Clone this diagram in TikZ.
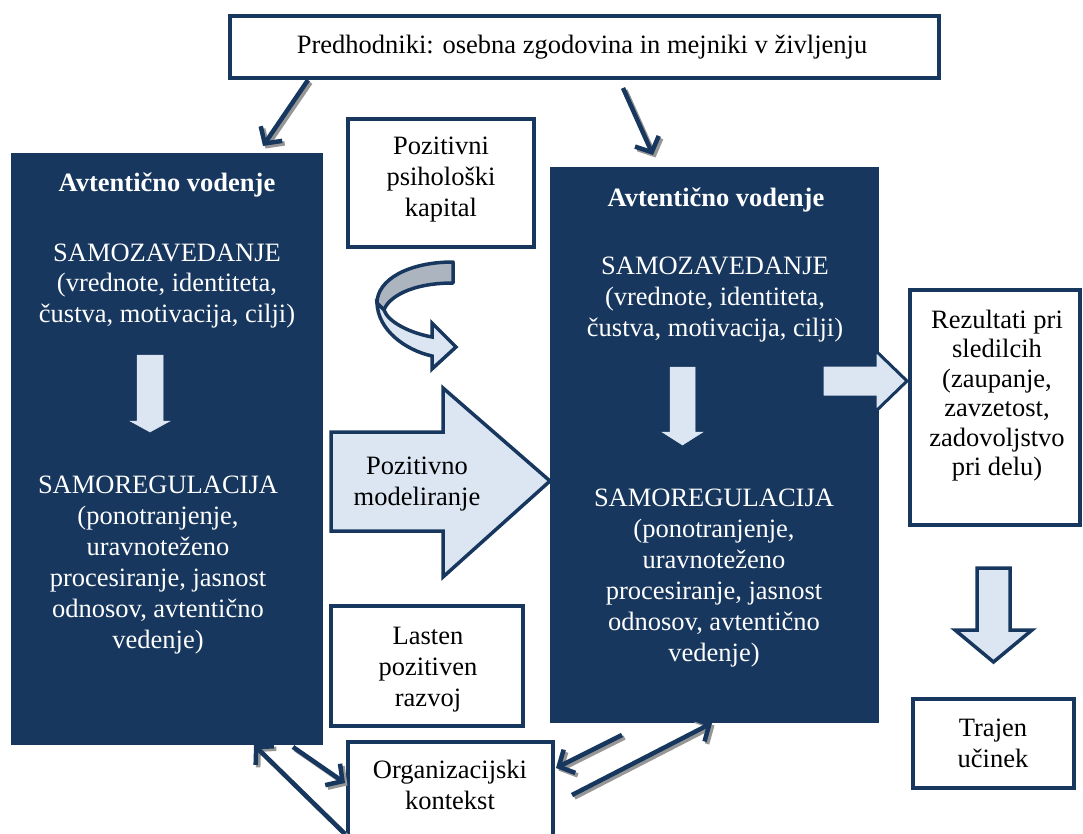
\documentclass[tikz,border=0pt]{standalone}
\usepackage{fontspec}
\setmainfont{Liberation Serif}
\usetikzlibrary{arrows.meta}
\definecolor{navy}{RGB}{23,55,94}
\definecolor{pale}{RGB}{220,230,242}
\definecolor{fold}{RGB}{172,180,192}
\definecolor{shade}{RGB}{150,150,150}
% centred lines whose base anchor is the baseline of the first line
\newcommand{\mlines}[1]{\begin{tabular}[t]{@{}c@{}}#1\end{tabular}}
\begin{document}
\begin{tikzpicture}[x=1pt,y=-1pt,
  txt/.style={font=\fontsize{26.5}{31}\selectfont, inner sep=0pt, anchor=base},
  wtxt/.style={txt, text=white},
  wbox/.style={draw=navy, line width=4pt, fill=white, inner sep=0pt},
  nbox/.style={fill=navy, inner sep=0pt},
  blockarrow/.style={draw=navy, line width=3.5pt, fill=pale, line join=miter},
  innerarrow/.style={draw=pale, line width=0.5pt, fill=pale},
  link/.style={draw=navy, line width=4.5pt, -{Straight Barb[length=12pt,width=26pt]}},
  linkshadow/.style={draw=shade, line width=4.5pt, -{Straight Barb[length=12pt,width=26pt]}},
]
\useasboundingbox (0,0) rectangle (1083,834);

% ---- leadership blocks ----
\node[nbox, minimum width=312pt, minimum height=592pt] (lbox) at (167,449) {};
\node[nbox, minimum width=329pt, minimum height=556pt] (rbox) at (714.5,445) {};

% ---- white boxes ----
\node[wbox, minimum width=709pt, minimum height=62pt] (top) at (584.5,47) {};
\node[wbox, minimum width=186pt, minimum height=128pt] (kap) at (441,183) {};
\node[wbox, minimum width=192pt, minimum height=120pt] (lasten) at (427,666) {};
\node[wbox, minimum width=205pt, minimum height=106pt] (org) at (450.5,795) {};
\node[wbox, minimum width=170pt, minimum height=235pt] (rez) at (995,407.5) {};
\node[wbox, minimum width=161pt, minimum height=89pt] (traj) at (993.5,743.5) {};

% ---- texts ----
\node[txt] (toptxt) at (582,54) {Predhodniki: osebna zgodovina in mejniki v življenju};
\node[txt] (kaptxt) at (441,155) {\mlines{Pozitivni\\psihološki\\kapital}};
\node[txt] (lastentxt) at (428,644) {\mlines{Lasten\\pozitiven\\razvoj}};
\node[txt] (orgtxt) at (450,778) {\mlines{Organizacijski\\kontekst}};
\node[txt, font=\fontsize{26.5}{29.5}\selectfont] (reztxt) at (997,328) {\mlines{Rezultati pri\\sledilcih\\(zaupanje,\\zavzetost,\\zadovoljstvo\\pri delu)}};
\node[txt] (trajtxt) at (993,736) {\mlines{Trajen\\učinek}};

\node[wtxt] (lhead) at (167,192) {\textbf{Avtentično vodenje}};
\node[wtxt] (lzav) at (167,261) {\mlines{SAMOZAVEDANJE\\(vrednote, identiteta,\\čustva, motivacija, cilji)}};
\node[wtxt] (lreg) at (158,493) {\mlines{SAMOREGULACIJA\\(ponotranjenje,\\uravnoteženo\\procesiranje, jasnost\\odnosov, avtentično\\vedenje)}};

\node[wtxt] (rhead) at (716,207) {\textbf{Avtentično vodenje}};
\node[wtxt] (rzav) at (715,274) {\mlines{SAMOZAVEDANJE\\(vrednote, identiteta,\\čustva, motivacija, cilji)}};
\node[wtxt] (rreg) at (714,506) {\mlines{SAMOREGULACIJA\\(ponotranjenje,\\uravnoteženo\\procesiranje, jasnost\\odnosov, avtentično\\vedenje)}};

% ---- down arrows inside the leadership blocks ----
\draw[innerarrow] (137,355) -- (163,355) -- (163,421) -- (170,421) -- (150,432) -- (130,421) -- (137,421) -- cycle;
\draw[innerarrow] (670,367) -- (695,367) -- (695,432) -- (703,432) -- (682.5,445) -- (662,432) -- (670,432) -- cycle;

% ---- positive modelling arrow ----
\draw[blockarrow] (331,432) -- (443,432) -- (443,388) -- (550,481) -- (443,577) -- (443,531) -- (331,531) -- cycle;
\node[txt] (modtxt) at (417,474) {\mlines{Pozitivno\\modeliranje}};

% ---- arrow towards follower outcomes ----
\draw[blockarrow, line width=3pt] (822,365) -- (875,365) -- (875,350) -- (907,381) -- (875,412) -- (875,397) -- (822,397) -- cycle;

% ---- arrow towards lasting effect ----
\draw[blockarrow] (977,568) -- (1010,568) -- (1010,630) -- (1032,630) -- (993.5,662) -- (955,630) -- (977,630) -- cycle;

% ---- curved ribbon arrow under the capital box ----
\draw[draw=navy, line width=3.5pt, fill=fold, line join=round]
  (453,262) .. controls (408,262) and (377,280) .. (377,303) -- (384,310)
  .. controls (388,298) and (410,283) .. (453,283) -- cycle;
\draw[draw=navy, line width=3.5pt, fill=pale, line join=miter]
  (377,303) .. controls (378,330) and (405,350) .. (432,356) -- (432,369) -- (456,347)
  -- (432,323) -- (432,337) .. controls (410,333) and (388,322) .. (384,310) -- cycle;

% ---- connector end points ----
\coordinate (topL) at (308,80);
\coordinate (lboxT) at (263,146);
\coordinate (topR) at (623,88);
\coordinate (rboxT) at (653,155);
\coordinate (lboxB) at (293,747);
\coordinate (orgL) at (345,783);
\coordinate (orgLB) at (345,834);
\coordinate (lboxBL) at (254,745);
\coordinate (rboxBL) at (622,735);
\coordinate (orgR) at (556,768);
\coordinate (orgRB) at (572,795);
\coordinate (rboxB) at (712,723);

% ---- connector shadows ----
\foreach \a/\b in {topL/lboxT, topR/rboxT, lboxB/orgL, orgLB/lboxBL, rboxBL/orgR, orgRB/rboxB}
  \draw[linkshadow] ([shift={(2.5,2.5)}]\a) -- ([shift={(2.5,2.5)}]\b);

% ---- connectors ----
\draw[link] (topL) -- (lboxT);
\draw[link] (topR) -- (rboxT);
\draw[link] (lboxB) -- (orgL);
\draw[link] (orgLB) -- (lboxBL);
\draw[link] (rboxBL) -- (orgR);
\draw[link] (orgRB) -- (rboxB);
\end{tikzpicture}
\end{document}
